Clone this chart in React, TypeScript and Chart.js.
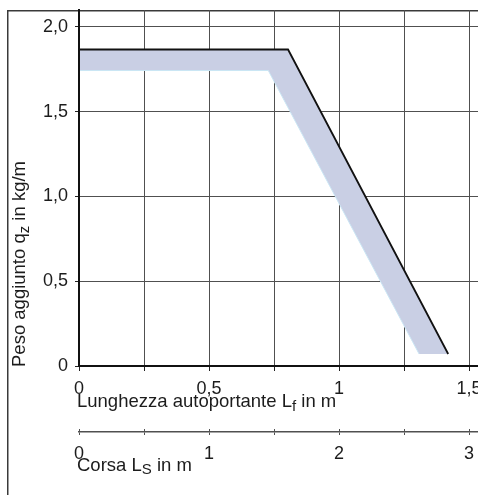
import React, { useEffect, useRef } from 'react';
import { Chart, registerables } from 'chart.js';

Chart.register(...registerables);

// ---- data ----
// band of admissible added weight qz [kg/m] vs. self-supporting length Lf [m]
const bandUpperLf = [0, 0.804, 1.42];
const bandUpperQz = [1.867, 1.867, 0.071];
const bandLowerLf = [1.308, 0.728, 0];
const bandLowerQz = [0.071, 1.743, 1.743];

// tick labels
const yTickValues = [0, 0.5, 1, 1.5, 2];
const yTickLabels = ['0', '0,5', '1,0', '1,5', '2,0'];
const xTickValues = [0, 0.5, 1, 1.5];
const xTickLabels = ['0', '0,5', '1', '1,5'];
const strokeTickValues = [0, 1, 2, 3];
const strokeTickLabels = ['0', '1', '2', '3'];

// titles
const yTitle = ['Peso aggiunto q', 'z', ' in kg/m'];
const xTitle = ['Lunghezza autoportante L', 'f', ' in m'];
const x2Title = ['Corsa L', 'S', ' in m'];

const FAMILY = "'Liberation Sans', Arial, Helvetica, sans-serif";
const TEXT = '#1c1c1c';
const GRID = '#505050';

function lookup(values: number[], labels: string[], v: number) {
  for (let i = 0; i < values.length; i++) {
    if (Math.abs(values[i] - v) < 1e-6) return labels[i];
  }
  return '';
}

function drawSub(ctx: CanvasRenderingContext2D, x: number, y: number, parts: string[]) {
  const main = `18.5px ${FAMILY}`;
  const sub = `15px ${FAMILY}`;
  ctx.textAlign = 'left';
  ctx.textBaseline = 'alphabetic';
  ctx.font = main;
  ctx.fillText(parts[0], x, y);
  let w = ctx.measureText(parts[0]).width;
  ctx.font = sub;
  ctx.fillText(parts[1], x + w, y + 3.5);
  w += ctx.measureText(parts[1]).width;
  ctx.font = main;
  ctx.fillText(parts[2], x + w, y);
}

const framePlugin = {
  id: 'frame',
  beforeDraw(chart: any) {
    const { ctx, chartArea } = chart;
    ctx.save();
    ctx.strokeStyle = '#3a3a3a';
    ctx.lineWidth = 1.5;
    ctx.beginPath();
    ctx.moveTo(7.75, chart.height + 2);
    ctx.lineTo(7.75, chartArea.top + 0.75);
    ctx.lineTo(chart.width + 2, chartArea.top + 0.75);
    ctx.stroke();
    ctx.restore();
  },
  afterDatasetsDraw(chart: any) {
    const { ctx, chartArea } = chart;
    ctx.save();
    ctx.strokeStyle = '#111';
    ctx.lineWidth = 2;
    ctx.beginPath();
    ctx.moveTo(chartArea.left, chartArea.top);
    ctx.lineTo(chartArea.left, chartArea.bottom + 1);
    ctx.stroke();
    ctx.restore();
  },
  afterDraw(chart: any) {
    const { ctx, chartArea } = chart;
    const sx = chart.scales.x;
    const s2 = chart.scales.x2;
    ctx.save();
    // upward halves of the stroke-axis tick marks
    ctx.strokeStyle = GRID;
    ctx.lineWidth = 1;
    s2.ticks.forEach((t: any) => {
      const px = Math.round(s2.getPixelForValue(t.value)) + 0.5;
      ctx.beginPath();
      ctx.moveTo(px, s2.top);
      ctx.lineTo(px, s2.top - 3);
      ctx.stroke();
    });
    ctx.fillStyle = TEXT;
    drawSub(ctx, chartArea.left - 2, sx.top + 41, xTitle);
    drawSub(ctx, chartArea.left - 2, s2.top + 38.5, x2Title);
    ctx.translate(25, chartArea.bottom + 1);
    ctx.rotate(-Math.PI / 2);
    drawSub(ctx, 0, 0, yTitle);
    ctx.restore();
  },
};

export default function App() {
  const ref = useRef<HTMLCanvasElement | null>(null);

  useEffect(() => {
    document.body.style.margin = '0';
    document.body.style.overflow = 'hidden';
    const canvas = ref.current;
    if (!canvas) return;
    const upper = bandUpperLf.map((x, i) => ({ x, y: bandUpperQz[i] }));
    const lower = bandLowerLf.map((x, i) => ({ x, y: bandLowerQz[i] }));
    const chart = new Chart(canvas, {
      type: 'line',
      data: {
        datasets: [
          {
            data: upper,
            fill: false,
            borderColor: '#111',
            borderWidth: 1.8,
            pointRadius: 0,
            tension: 0,
          },
          {
            data: lower,
            fill: false,
            borderColor: '#cbe6f4',
            borderWidth: 1,
            pointRadius: 0,
            tension: 0,
          },
          {
            data: [...upper, ...lower],
            fill: 'shape',
            backgroundColor: '#c9cfe4',
            borderColor: 'rgba(0,0,0,0)',
            borderWidth: 0,
            pointRadius: 0,
            tension: 0,
          } as any,
        ],
      },
      options: {
        responsive: false,
        animation: false,
        events: [],
        layout: { padding: { top: 10, right: 5, left: 0, bottom: 0 }, autoPadding: false } as any,
        plugins: { legend: { display: false }, tooltip: { enabled: false }, title: { display: false } },
        font: { family: FAMILY },
        scales: {
          x: {
            type: 'linear',
            position: 'bottom',
            weight: 0,
            min: 0,
            max: 1.6,
            afterFit: (s: any) => {
              s.height = 66;
              s.paddingLeft = 0;
              s.paddingRight = 0;
            },
            grid: { color: GRID, lineWidth: 1, tickLength: 5, tickColor: '#222' },
            border: { display: true, color: '#111', width: 2 },
            ticks: {
              stepSize: 0.25,
              includeBounds: false,
              autoSkip: false,
              maxRotation: 0,
              padding: 7,
              color: TEXT,
              font: { size: 18, family: FAMILY },
              callback: (v: any) => lookup(xTickValues, xTickLabels, Number(v)),
            },
          },
          x2: {
            type: 'linear',
            position: 'bottom',
            weight: 1,
            min: 0,
            max: 3.2,
            afterFit: (s: any) => {
              s.height = 63;
              s.paddingLeft = 0;
              s.paddingRight = 0;
            },
            grid: { drawOnChartArea: false, color: GRID, lineWidth: 1, tickLength: 3 },
            border: { display: true, color: GRID, width: 1.5 },
            ticks: {
              stepSize: 0.5,
              includeBounds: false,
              autoSkip: false,
              maxRotation: 0,
              padding: 8,
              color: TEXT,
              font: { size: 18, family: FAMILY },
              callback: (v: any) => lookup(strokeTickValues, strokeTickLabels, Number(v)),
            },
          },
          y: {
            type: 'linear',
            position: 'left',
            min: 0,
            max: 2.1,
            afterFit: (s: any) => {
              s.width = 79;
              s.paddingTop = 0;
              s.paddingBottom = 0;
            },
            grid: { color: GRID, lineWidth: 1, tickLength: 4, tickColor: '#222' },
            border: { display: true, color: '#111', width: 2 },
            ticks: {
              stepSize: 0.5,
              includeBounds: false,
              autoSkip: false,
              padding: 7,
              color: TEXT,
              font: { size: 18, family: FAMILY },
              callback: (v: any) => lookup(yTickValues, yTickLabels, Number(v)),
            },
          },
        },
      } as any,
      plugins: [framePlugin],
    });
    return () => chart.destroy();
  }, []);

  return (
    <div style={{ width: 478, height: 495, overflow: 'hidden', position: 'relative' }}>
      <canvas ref={ref} width={500} height={495} style={{ display: 'block', width: 500, height: 495 }} />
    </div>
  );
}
